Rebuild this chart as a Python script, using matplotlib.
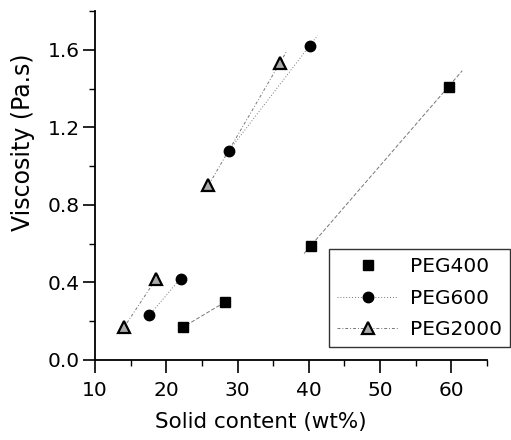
import matplotlib
matplotlib.use("Agg")
import matplotlib.pyplot as plt
from matplotlib.lines import Line2D
import numpy as np

plt.rcParams['font.family'] = ['DejaVu Sans']

# data (pairs joined by thin lines)
peg400_x = [22.4, 28.3, 40.3, 59.6]
peg400_y = [0.17, 0.30, 0.59, 1.41]
peg600_x = [17.6, 22.0, 28.8, 40.1]
peg600_y = [0.23, 0.42, 1.08, 1.62]
peg2000_x = [14.1, 18.6, 25.9, 35.9]
peg2000_y = [0.17, 0.42, 0.90, 1.53]

x_ticks = [10, 20, 30, 40, 50, 60]
y_ticks = [0.0, 0.4, 0.8, 1.2, 1.6]

fig = plt.figure(figsize=(5.11, 4.4), dpi=100)
ax = fig.add_axes([0.186, 0.182, 0.767, 0.793])


def pair_lines(xs, ys, ls):
    # join the points two by two, line runs a little past the ends
    for i in range(0, len(xs), 2):
        x0, x1 = xs[i], xs[i + 1]
        y0, y1 = ys[i], ys[i + 1]
        dx, dy = x1 - x0, y1 - y0
        ax.plot([x0 - 0.05 * dx, x1 + 0.1 * dx], [y0 - 0.05 * dy, y1 + 0.1 * dy],
                color='#777777', lw=0.7, ls=ls, zorder=1)


pair_lines(peg400_x, peg400_y, (0, (4, 2)))
pair_lines(peg600_x, peg600_y, (0, (1, 2)))
pair_lines(peg2000_x, peg2000_y, (0, (3, 2, 1, 2)))

ax.plot(peg400_x, peg400_y, ls='none', marker='s', ms=6.5, color='black')
ax.plot(peg600_x, peg600_y, ls='none', marker='o', ms=7.5, color='black')
ax.plot(peg2000_x, peg2000_y, ls='none', marker='^', ms=8.5, mfc='#aaaaaa', mec='black', mew=1.6)

# legend handles with faint lines like the original
handles = [
    Line2D([], [], ls='none', marker='s', ms=6.5, color='black'),
    Line2D([], [], ls=(0, (1, 2)), lw=0.7, color='#777777', marker='o', ms=7.5, mfc='black', mec='black'),
    Line2D([], [], ls=(0, (3, 2, 1, 2)), lw=0.7, color='#777777', marker='^', ms=8.5,
           mfc='#aaaaaa', mec='black', mew=1.6),
]
leg = fig.legend(handles, ['PEG400', 'PEG600', 'PEG2000'], loc='lower right',
                 bbox_to_anchor=(0.998, 0.211), fontsize=14.5, frameon=True, fancybox=False,
                 edgecolor='black', handlelength=3.0, handletextpad=0.6, borderpad=0.4,
                 labelspacing=0.62, borderaxespad=0)
leg.get_frame().set_linewidth(1.0)

ax.set_xlim(10, 65)
ax.set_ylim(0, 1.8)
ax.set_xticks(x_ticks)
ax.set_yticks(y_ticks)
ax.set_xticks(np.arange(15, 66, 10), minor=True)
ax.set_yticks([0.2, 0.6, 1.0, 1.4, 1.8], minor=True)
ax.set_yticklabels(['%.1f' % v for v in y_ticks])
ax.tick_params(which='major', direction='out', length=9, width=1.2, labelsize=14.5)
ax.tick_params(axis='y', which='major', pad=2)
ax.tick_params(axis='x', which='major', pad=6)
ax.tick_params(which='minor', direction='out', length=4, width=1.0)

ax.spines['top'].set_visible(False)
ax.spines['right'].set_visible(False)
ax.spines['left'].set_linewidth(1.3)
ax.spines['bottom'].set_linewidth(1.3)

ax.set_xlabel('Solid content (wt%)', fontsize=15.5)
ax.set_ylabel('Viscosity (Pa.s)', fontsize=17)
ax.xaxis.set_label_coords(0.423, -0.148)
ax.yaxis.set_label_coords(-0.153, 0.625)

fig.savefig('out.png', dpi=100)
